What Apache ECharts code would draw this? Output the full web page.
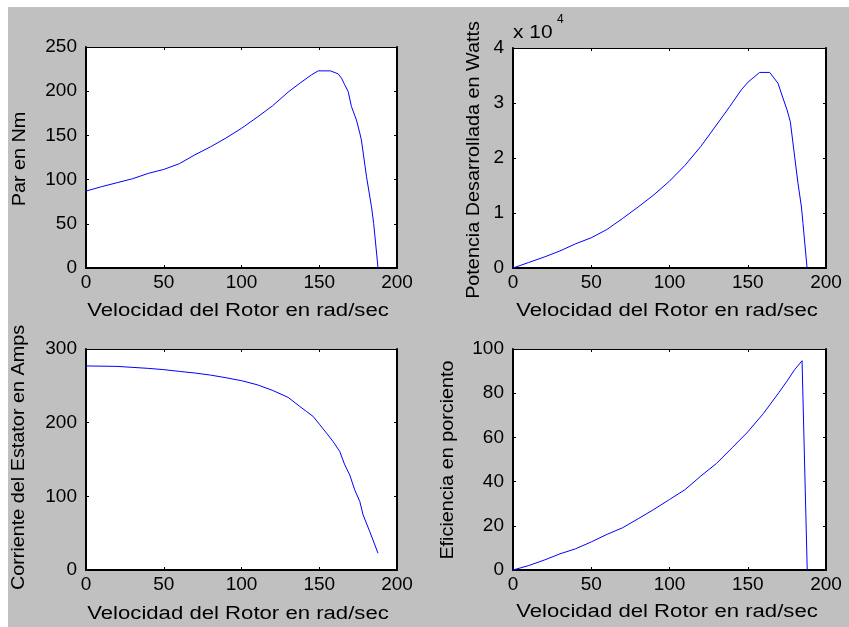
<!DOCTYPE html>
<html>
<head>
<meta charset="utf-8">
<script src="https://cdn.jsdelivr.net/npm/echarts@6/dist/echarts.min.js"></script>
<style>
  html, body { margin: 0; padding: 0; background: #fff; }
  #chart { width: 849px; height: 627px; }
</style>
</head>
<body>
<div id="chart"></div>
<script>
// shared x axis
const xTicks = [0, 50, 100, 150, 200]
const xTitle = 'Velocidad del Rotor en rad/sec'

// par (torque) vs speed
const speedTorque = [0, 10, 20, 30, 40, 50, 60, 70, 80, 90, 100, 110, 120, 130, 137.5, 145, 149.3, 157.2, 162.1, 164.3, 166.4, 168.6, 170.7, 173.9, 176.1, 177.1, 180.4, 183.6, 185, 187.8]
const torque = [87, 92, 96.5, 101, 107, 111.5, 118, 128, 137, 147, 158, 170.5, 183.5, 199, 209, 218.5, 223, 223, 219.7, 214.8, 207.2, 199.6, 182.6, 167.5, 152.4, 144.9, 103.2, 69.2, 50.4, 0]
const torqueTicks = [0, 50, 100, 150, 200, 250]

// potencia desarrollada (W)
const speedPower = [0, 10, 20, 30, 40, 50, 60, 70, 80, 90, 100, 110, 120, 130, 138.5, 145.9, 150.2, 157.6, 164, 169.3, 172.5, 175.1, 177.2, 180, 182.1, 184.3, 185.3, 187.9]
const power = [0, 1000, 2000, 3100, 4400, 5500, 7000, 9000, 11100, 13300, 15800, 18700, 22100, 26000, 29350, 32400, 33800, 35560, 35560, 33600, 30900, 28750, 26600, 20200, 15400, 11100, 8100, 0]
const powerTicks = [0, 10000, 20000, 30000, 40000]

// corriente del estator
const speedCurrent = [0, 20, 40, 50, 60, 70, 80, 90, 100, 110, 120, 130, 137.5, 141.8, 146.1, 150.4, 154.7, 158.9, 163.2, 166.4, 169.6, 172.8, 176.1, 178.2, 182.5, 187.8]
const current = [277, 276.4, 273.7, 272, 269.6, 267.4, 264.6, 261, 257, 251.5, 243.8, 234.3, 222, 215.2, 208.4, 197.1, 185.8, 174.4, 160.8, 142.7, 129.1, 108.8, 92.9, 74.8, 52.1, 22.7]
const currentTicks = [0, 100, 200, 300]

// eficiencia
const speedEff = [0, 10, 20, 30, 40, 50, 60, 70, 80, 90, 100, 110, 120, 130, 140, 150, 160, 170, 175, 180, 184.7, 188]
const efficiency = [0, 2, 4.5, 7.3, 9.6, 12.7, 16.1, 19.1, 23.2, 27.4, 31.9, 36.4, 42.5, 48.2, 55.3, 62.5, 70.8, 80.4, 85.4, 90.7, 94.7, 0]
const effTicks = [0, 20, 40, 60, 80, 100]

const font = "'Liberation Sans', Arial, sans-serif"
const blue = '#0000ff'

// old matlab text is spaced out, so titles are drawn as stretched graphic text
const panels = [
  { grid: { left: 86, top: 47, width: 311, height: 221 }, xs: speedTorque, ys: torque, ticks: torqueTicks,
    name: 'Par en Nm', namePos: [20.5, 159], xNamePos: [238, 311] },
  { grid: { left: 513, top: 48, width: 313, height: 220 }, xs: speedPower, ys: power, ticks: powerTicks,
    name: 'Potencia Desarrollada en Watts', namePos: [474, 160], xNamePos: [667, 311], fmt: (v) => String(v / 10000) },
  { grid: { left: 86, top: 349, width: 311, height: 221 }, xs: speedCurrent, ys: current, ticks: currentTicks,
    name: 'Corriente del Estator en Amps', namePos: [19, 457.5], xNamePos: [238, 614] },
  { grid: { left: 513, top: 349, width: 313, height: 221 }, xs: speedEff, ys: efficiency, ticks: effTicks,
    name: 'Eficiencia en porciento', namePos: [448.5, 460], xNamePos: [667, 612] },
]

const grids = []
const xAxes = []
const yAxes = []
const series = []
const titles = []

const tick = { show: true, inside: true, length: 3, lineStyle: { color: '#000', width: 1 } }
const label = { color: '#000', fontSize: 19, fontFamily: font }

function title(text, pos, rotate, stretch) {
  return {
    type: 'text', x: pos[0], y: pos[1], rotation: rotate ? Math.PI / 2 : 0, scaleX: stretch,
    style: {
      text, fill: '#000', fontSize: 18, fontFamily: font,
      align: 'center', verticalAlign: 'middle', textAlign: 'center', textVerticalAlign: 'middle',
    },
  }
}

panels.forEach((p, i) => {
  grids.push({ ...p.grid, show: true, backgroundColor: '#fff', borderWidth: 0 })
  const yStep = p.ticks[1] - p.ticks[0]
  const yMax = p.ticks[p.ticks.length - 1]
  const xStep = xTicks[1] - xTicks[0]
  const xMax = xTicks[xTicks.length - 1]

  xAxes.push({
    type: 'value', gridIndex: i, position: 'bottom', min: xTicks[0], max: xMax, interval: xStep,
    axisLine: { show: true, onZero: false, lineStyle: { color: '#000', width: 2 } },
    axisTick: tick, splitLine: { show: false },
    axisLabel: { ...label, margin: 5 },
  })
  xAxes.push({
    type: 'value', gridIndex: i, position: 'top', min: xTicks[0], max: xMax, interval: xStep,
    axisLine: { show: true, onZero: false, lineStyle: { color: '#000', width: 1 } },
    axisTick: tick, splitLine: { show: false }, axisLabel: { show: false },
  })
  yAxes.push({
    type: 'value', gridIndex: i, position: 'left', min: p.ticks[0], max: yMax, interval: yStep,
    axisLine: { show: true, onZero: false, lineStyle: { color: '#000', width: 2 } },
    axisTick: tick, splitLine: { show: false },
    axisLabel: { ...label, margin: 9, formatter: p.fmt },
  })
  yAxes.push({
    type: 'value', gridIndex: i, position: 'right', min: p.ticks[0], max: yMax, interval: yStep,
    axisLine: { show: true, onZero: false, lineStyle: { color: '#000', width: 2 } },
    axisTick: tick, splitLine: { show: false }, axisLabel: { show: false },
  })
  series.push({
    type: 'line', xAxisIndex: 2 * i, yAxisIndex: 2 * i,
    data: p.xs.map((x, k) => [x, p.ys[k]]),
    showSymbol: false, symbol: 'none',
    lineStyle: { color: blue, width: 1 },
    emphasis: { disabled: true },
  })
  titles.push(title(xTitle, p.xNamePos, false, 1.23))
  titles.push(title(p.name, p.namePos, true, 1.1))
})

const chart = echarts.init(document.getElementById('chart'))
chart.setOption({
  animation: false,
  backgroundColor: '#fff',
  graphic: [
    { type: 'rect', left: 8, top: 7, z: -100, shape: { width: 841, height: 620 }, style: { fill: '#c0c0c0' } },
    { type: 'text', x: 513, y: 23, scaleX: 1.1, style: { text: 'x 10', fontSize: 19, fontFamily: font, fill: '#000' } },
    { type: 'text', x: 557, y: 14, style: { text: '4', fontSize: 12, fontFamily: font, fill: '#000' } },
    ...titles,
  ],
  grid: grids,
  xAxis: xAxes,
  yAxis: yAxes,
  series: series,
})
</script>
</body>
</html>
